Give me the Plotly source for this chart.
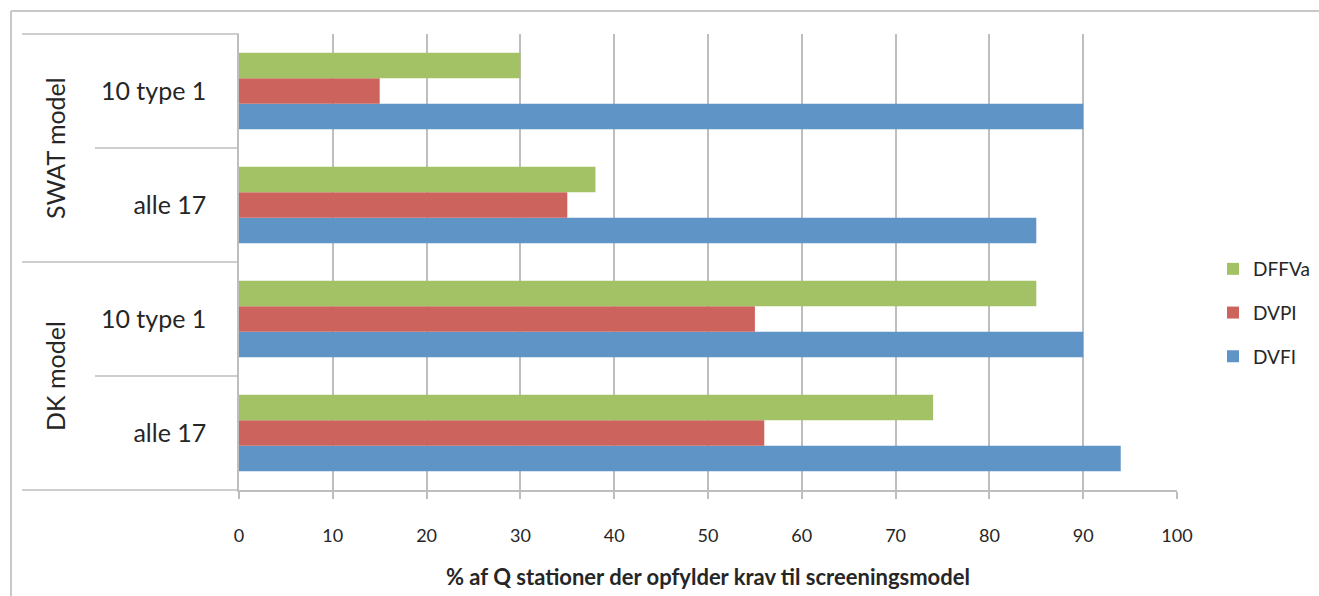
import plotly.graph_objects as go

# Category rows, bottom to top
groups = ["DK model", "DK model", "SWAT model", "SWAT model"]
subgroups = ["alle 17", "10 type 1", "alle 17", "10 type 1"]
row_keys = [f"{g} | {s}" for g, s in zip(groups, subgroups)]

# Percentages per index
dvfi = [94, 90, 85, 90]
dvpi = [56, 55, 35, 15]
dffva = [74, 85, 38, 30]

x_ticks = [0, 10, 20, 30, 40, 50, 60, 70, 80, 90, 100]

GREEN = "#A3C266"
RED = "#CD635D"
BLUE = "#5F94C7"
GRID = "#BEBEBE"
FONT = "Lato, 'Open Sans', sans-serif"
TXT = "#262626"

fig = go.Figure()
for rank, (name, vals, col) in enumerate(
        [("DVFI", dvfi, BLUE), ("DVPI", dvpi, RED), ("DFFVa", dffva, GREEN)]):
    fig.add_trace(go.Bar(
        y=row_keys, x=vals, name=name, orientation="h",
        marker=dict(color=col, line=dict(width=0)),
        legendgroup=name, legendrank=3 - rank,
    ))

# plot area geometry in pixels
W, H = 1319, 596
L, R, T, B = 239, 142, 34, 106
pw, ph = W - L - R, H - T - B


def px(x):
    return (x - L) / pw


def py(y):
    return (H - B - y) / ph


line = dict(color=GRID, width=1.5)
shapes = [
    # outer frame
    dict(type="line", xref="paper", yref="paper", x0=px(11), x1=px(W + 5), y0=py(11), y1=py(11),
         line=dict(color="#C8C8C8", width=2)),
    dict(type="line", xref="paper", yref="paper", x0=px(11), x1=px(11), y0=py(11), y1=py(H + 5),
         line=dict(color="#C8C8C8", width=2)),
    # category table lines on the left
    dict(type="line", xref="paper", yref="paper", x0=px(22), x1=0, y0=1, y1=1, line=line),
    dict(type="line", xref="paper", yref="paper", x0=px(22), x1=0, y0=0.5, y1=0.5, line=line),
    dict(type="line", xref="paper", yref="paper", x0=px(22), x1=0, y0=0, y1=0, line=line),
    dict(type="line", xref="paper", yref="paper", x0=px(95), x1=0, y0=0.25, y1=0.25, line=line),
    dict(type="line", xref="paper", yref="paper", x0=px(95), x1=0, y0=0.75, y1=0.75, line=line),
]

annotations = [
    dict(text="SWAT model", xref="paper", yref="paper", x=px(55), y=0.75, textangle=-90,
         showarrow=False, font=dict(family=FONT, size=25, color=TXT), xanchor="center", yanchor="middle"),
    dict(text="DK model", xref="paper", yref="paper", x=px(55), y=0.25, textangle=-90,
         showarrow=False, font=dict(family=FONT, size=25, color=TXT), xanchor="center", yanchor="middle"),
    dict(text="<b>% af Q stationer der opfylder krav til screeningsmodel</b>", xref="paper", yref="paper",
         x=px(708), y=py(576), showarrow=False, font=dict(family=FONT, size=22, color=TXT),
         xanchor="center", yanchor="middle"),
]

fig.update_layout(
    width=W, height=H,
    margin=dict(l=L, r=R, t=T, b=B, autoexpand=False),
    paper_bgcolor="white", plot_bgcolor="white",
    barmode="group", bargap=0.33, bargroupgap=0,
    showlegend=True,
    legend=dict(x=px(1213), y=py(313), xanchor="left", yanchor="middle",
                traceorder="grouped", tracegroupgap=16,
                font=dict(family=FONT, size=19, color=TXT),
                itemwidth=30, bgcolor="rgba(0,0,0,0)"),
    shapes=shapes, annotations=annotations,
    font=dict(family=FONT, color=TXT),
)
fig.update_xaxes(
    range=[0, 100], tickvals=x_ticks, ticktext=[str(v) for v in x_ticks],
    showgrid=True, gridcolor=GRID, gridwidth=1.5,
    showline=True, linecolor=GRID, linewidth=1.5,
    ticks="outside", ticklen=7, tickcolor=GRID, tickwidth=1.5,
    ticklabelstandoff=22,
    tickfont=dict(family=FONT, size=18, color=TXT),
    zeroline=False, fixedrange=True,
)
fig.update_yaxes(
    categoryorder="array", categoryarray=row_keys,
    tickvals=row_keys, ticktext=subgroups,
    showline=True, linecolor=GRID, linewidth=1.5,
    ticks="", ticklabelstandoff=26,
    tickfont=dict(family=FONT, size=25, color=TXT),
    showgrid=False, fixedrange=True,
)

fig.write_html("out.html")
